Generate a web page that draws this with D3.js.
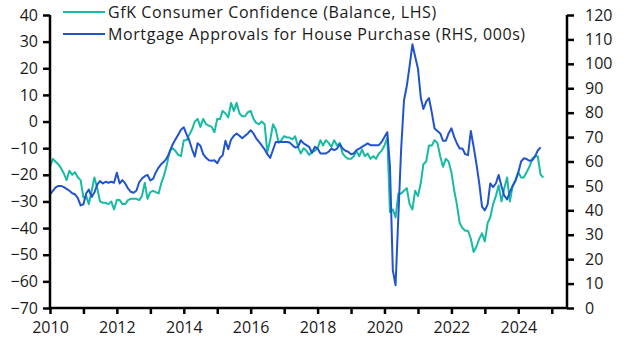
<!DOCTYPE html>
<html>
<head>
<meta charset="utf-8">
<script src="https://cdn.jsdelivr.net/npm/d3@7"></script>
<style>
  body { margin: 0; background: #fff; }
  svg text { font-family: "Open Sans", sans-serif; fill: #1a1a1a; }
</style>
</head>
<body>
<div id="chart"></div>
<script>
// set the dimensions of the graph
const width = 629,
    height = 354;
const margin = {top: 15, right: 62, bottom: 46, left: 50};

// monthly data, first point is Jan 2010
const startMonth = new Date(2010, 0, 1);

// GfK Consumer Confidence (balance, LHS)
const gfk = [
    -17, -14, -15, -16, -17.5, -19.5, -22, -18.5, -20, -19, -21, -22,
    -28.5, -28, -31, -26, -21, -25, -30, -30.5, -30.5, -31, -30, -33,
    -29.5, -29.5, -31, -31, -29.5, -29, -29, -29, -29.5, -28, -23, -29,
    -26.5, -26, -26.5, -27, -23, -20, -16, -11, -10, -11, -12.5, -13,
    -7, -7, -5, -3, 0, 1, -2, 1, -1, -1.5, -2, -4,
    1, 1, 4, 3, 1.5, 7, 4, 7, 3, 2, 2, 3.5,
    4, 1, -0.5, -1, 0, -1, -11.5, -7, -1, -3, -8, -7,
    -5.5, -6, -6, -6.7, -5.5, -9.5, -12, -10, -11, -12.5, -11.5, -11,
    -10, -7, -9, -7, -8, -9.5, -7, -9, -8, -12, -13.3, -14,
    -14, -13, -11, -13, -10.5, -13, -12, -14, -13, -14, -12, -11,
    -9, -6, -34, -33, -36, -27, -27, -26, -25, -31, -33, -26,
    -28, -23, -16, -15, -9, -9, -7, -8, -13, -17, -14, -15,
    -19, -26, -31, -38, -40, -41, -41, -44, -49, -47, -44, -42,
    -45, -38, -36, -31, -28, -24, -30, -25, -21, -30, -24, -22,
    -19, -21, -21, -19, -17, -14, -13, -13, -20, -21
];

// Mortgage approvals for house purchase (000s, RHS)
const approvals = [
    46.5, 48, 49.3, 50, 50, 49.5, 48.8, 48, 47, 46.6, 45, 42,
    42.5, 47, 48.5, 45.5, 47.3, 50.5, 52, 51, 51.7, 51.3, 51.7, 51.3,
    55.4, 51, 52.4, 51, 49, 47.6, 47.2, 48, 51.5, 53, 54, 54.5,
    52.2, 53, 55.5, 57.5, 59, 60, 61.5, 64, 67, 69, 71, 73,
    74, 71, 68.7, 65, 62, 67.5, 66.5, 63, 61.5, 60.5, 60.3, 60.5,
    59.3, 61.5, 62.5, 68.5, 65, 69, 70.5, 71.5, 70.5, 69.5, 70.5, 71.5,
    72.8, 71.5, 69.5, 68, 66.6, 65, 63, 61.5, 64.8, 68, 68, 68,
    68, 68, 67.8, 66.7, 65.7, 66, 68.7, 67.4, 66.7, 66, 63.5, 66,
    65.3, 63.3, 63.3, 63.3, 64, 65.3, 64.7, 65.3, 67, 65.3, 64.4, 64,
    63, 63.3, 64.7, 65.3, 66, 66.7, 67.4, 66.7, 66.7, 66.7, 66.7, 68,
    70, 72, 58, 15.5, 9.3, 38, 65, 85, 91, 99, 108, 103,
    98, 86, 81.5, 84.5, 86, 80, 73.5, 72.5, 71.5, 68.5, 68.5, 71.5,
    73.6, 70, 67.5, 65.3, 65.3, 63, 62.6, 72.5, 66, 59, 51, 41.5,
    40, 42.5, 51, 49.5, 51, 54.5, 50, 46, 44.5, 47.5, 50, 52,
    55.5, 60, 61.3, 61, 60.3, 60.5, 62, 64.5, 65.8
];

const seriesNames = [
    "GfK Consumer Confidence (Balance, LHS)",
    "Mortgage Approvals for House Purchase (RHS, 000s)"
];
const leftTicks = [-70, -60, -50, -40, -30, -20, -10, 0, 10, 20, 30, 40];
const rightTicks = [0, 10, 20, 30, 40, 50, 60, 70, 80, 90, 100, 110, 120];
const yearTicks = d3.range(2010, 2026);

const teal = "#17bba2";
const blue = "#2253cf";

const svg = d3.select("#chart")
    .append("svg")
    .attr("width", width)
    .attr("height", height);

// scales
const x = d3.scaleTime()
    .domain([new Date(2010, 0, 1), new Date(2025, 5, 16)])
    .range([margin.left, width - margin.right]);
const yLeft = d3.scaleLinear()
    .domain([-70, 40])
    .range([height - margin.bottom, margin.top]);
const yRight = d3.scaleLinear()
    .domain([0, 120])
    .range([height - margin.bottom, margin.top]);

const monthDate = i => d3.timeMonth.offset(startMonth, i);

// lines
const gfkLine = d3.line()
    .x((d, i) => x(monthDate(i)))
    .y(d => yLeft(d));
const approvalsLine = d3.line()
    .x((d, i) => x(monthDate(i)))
    .y(d => yRight(d));

svg.append("path")
    .datum(gfk)
    .attr("fill", "none")
    .attr("stroke", teal)
    .attr("stroke-width", 2)
    .attr("stroke-linejoin", "round")
    .attr("d", gfkLine);

svg.append("path")
    .datum(approvals)
    .attr("fill", "none")
    .attr("stroke", blue)
    .attr("stroke-width", 2)
    .attr("stroke-linejoin", "round")
    .attr("d", approvalsLine);

// axes
const leftAxis = svg.append("g")
    .attr("transform", `translate(${margin.left},0)`)
    .call(d3.axisLeft(yLeft).tickValues(leftTicks).tickSize(7).tickPadding(5));

const rightAxis = svg.append("g")
    .attr("transform", `translate(${width - margin.right},0)`)
    .call(d3.axisRight(yRight).tickValues(rightTicks).tickSize(7).tickPadding(11));

const bottomAxis = svg.append("g")
    .attr("transform", `translate(0,${height - margin.bottom})`)
    .call(d3.axisBottom(x)
        .tickValues(yearTicks.map(y => new Date(y, 0, 1)))
        .tickSize(6)
        .tickPadding(8)
        .tickFormat(d => d.getFullYear() % 2 === 0 ? d.getFullYear() : ""));

[leftAxis, rightAxis, bottomAxis].forEach(g => {
    g.select(".domain")
        .attr("stroke", "#000")
        .attr("stroke-width", 2.5);
    g.selectAll(".tick line")
        .attr("stroke", "#000")
        .attr("stroke-width", 2.5);
    g.selectAll("text")
        .attr("fill", "#1a1a1a")
        .style("font-size", "16px")
        .style("font-family", "'Open Sans', sans-serif");
});
// plain frame lines without the outer tick stubs
leftAxis.select(".domain").attr("d", `M0,${margin.top}V${height - margin.bottom}`);
rightAxis.select(".domain").attr("d", `M0,${margin.top}V${height - margin.bottom}`);
bottomAxis.select(".domain").attr("d", `M${margin.left},0H${width - margin.right}`);

// legend
const legend = svg.append("g")
    .attr("transform", "translate(63,12)");

seriesNames.forEach((name, i) => {
    const yOffset = i * 22;
    legend.append("line")
        .attr("x1", 0)
        .attr("x2", 42)
        .attr("y1", yOffset)
        .attr("y2", yOffset)
        .attr("stroke", i === 0 ? teal : blue)
        .attr("stroke-width", 2);
    legend.append("text")
        .attr("x", 45)
        .attr("y", yOffset)
        .attr("dominant-baseline", "central")
        .style("font-size", "16px")
        .style("letter-spacing", "0.6px")
        .text(name);
});
</script>
</body>
</html>
